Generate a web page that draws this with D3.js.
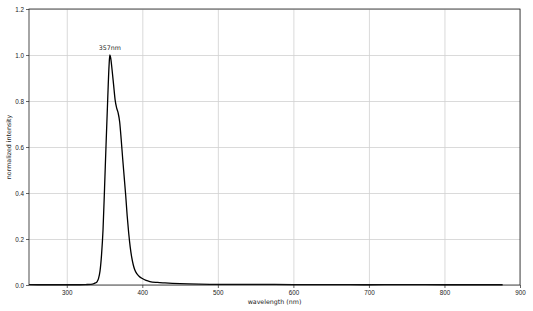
<!DOCTYPE html>
<html>
<head>
<meta charset="utf-8">
<script src="https://cdn.jsdelivr.net/npm/d3@7"></script>
<style>
  body { margin: 0; background: #fff; }
  svg { font-family: "DejaVu Sans", sans-serif; }
  .grid line { stroke: #d0d0d0; stroke-width: 0.8; }
  .grid path { display: none; }
  .axis text { font-size: 6.3px; fill: #222; }
  .axis line { stroke: #222; stroke-width: 0.7; }
  .axis path { display: none; }
</style>
</head>
<body>
<div id="chart"></div>
<script>
//***************** data *******************/
// wavelength (nm) and normalized intensity
var wavelength = [250, 270, 290, 310, 325, 332, 336, 338, 340, 342, 344, 346, 348, 350, 352, 354, 356, 357,
  358, 360, 362, 364, 366, 368, 370, 372, 374, 376, 378, 380, 382, 384, 386, 388, 390, 393, 396, 400,
  405, 410, 420, 430, 450, 475, 500, 550, 600, 650, 700, 750, 800, 850, 877];
var intensity = [0.002, 0.001, 0.001, 0.001, 0.002, 0.003, 0.006, 0.009, 0.014, 0.028, 0.06, 0.13, 0.24, 0.42, 0.61, 0.79, 0.955, 1.0,
  0.99, 0.935, 0.87, 0.805, 0.77, 0.748, 0.71, 0.635, 0.55, 0.47, 0.39, 0.30, 0.225, 0.165, 0.12, 0.088, 0.066, 0.048, 0.037, 0.028,
  0.02, 0.015, 0.011, 0.009, 0.006, 0.004, 0.003, 0.003, 0.002, 0.002, 0.001, 0.002, 0.001, 0.001, 0.001];
var xTicks = [300, 400, 500, 600, 700, 800, 900];
var yTicks = [0.0, 0.2, 0.4, 0.6, 0.8, 1.0, 1.2];
var peakLabel = {wavelength: 357, value: 1.0, text: "357nm"};

//************* set dimensions ***************/
var margin = {left: 29, right: 13, top: 9, bottom: 26};
var W = 533, H = 311;
var width = W - margin.left - margin.right,
    height = H - margin.top - margin.bottom;

var svg = d3.select("#chart")
  .append("svg")
    .attr("width", W)
    .attr("height", H)
  .append("g")
    .attr("transform", "translate(" + margin.left + "," + margin.top + ")");

//***************** scales *******************/
var x = d3.scaleLinear().domain([250, 900]).range([0, width]);
var y = d3.scaleLinear().domain([0, 1.2]).range([height, 0]);

//***************** gridlines *******************/
svg.append("g")
  .attr("class", "grid")
  .attr("transform", "translate(0," + height + ")")
  .call(d3.axisBottom(x).tickValues(xTicks).tickSize(-height).tickFormat(""));

svg.append("g")
  .attr("class", "grid")
  .call(d3.axisLeft(y).tickValues(yTicks).tickSize(-width).tickFormat(""));

//***************** axes *******************/
svg.append("g")
  .attr("class", "axis")
  .attr("transform", "translate(0," + height + ")")
  .call(d3.axisBottom(x).tickValues(xTicks).tickSize(3).tickPadding(3).tickFormat(d3.format("d")));

svg.append("g")
  .attr("class", "axis")
  .call(d3.axisLeft(y).tickValues(yTicks).tickSize(3).tickPadding(2).tickFormat(d3.format(".1f")));

//***************** line *******************/
var data = wavelength.map(function(d, i) { return {w: d, v: intensity[i]}; });

svg.append("path")
  .datum(data)
  .attr("fill", "none")
  .attr("stroke", "#000")
  .attr("stroke-width", 1.3)
  .attr("d", d3.line()
    .x(function(d) { return x(d.w); })
    .y(function(d) { return y(d.v); })
    .curve(d3.curveMonotoneX));

// frame
svg.append("rect")
  .attr("width", width)
  .attr("height", height)
  .attr("fill", "none")
  .attr("stroke", "#222")
  .attr("stroke-width", 0.8);

//***************** labels *******************/
svg.append("text")
  .attr("x", x(peakLabel.wavelength))
  .attr("y", y(peakLabel.value) - 5)
  .attr("text-anchor", "middle")
  .attr("font-size", "6.3px")
  .attr("fill", "#222")
  .text(peakLabel.text);

svg.append("text")
  .attr("x", width / 2)
  .attr("y", height + 18.5)
  .attr("text-anchor", "middle")
  .attr("font-size", "6.3px")
  .attr("fill", "#222")
  .text("wavelength (nm)");

svg.append("text")
  .attr("transform", "rotate(-90)")
  .attr("x", -height / 2)
  .attr("y", -18)
  .attr("text-anchor", "middle")
  .attr("font-size", "6.3px")
  .attr("fill", "#222")
  .text("normalized intensity");
</script>
</body>
</html>
